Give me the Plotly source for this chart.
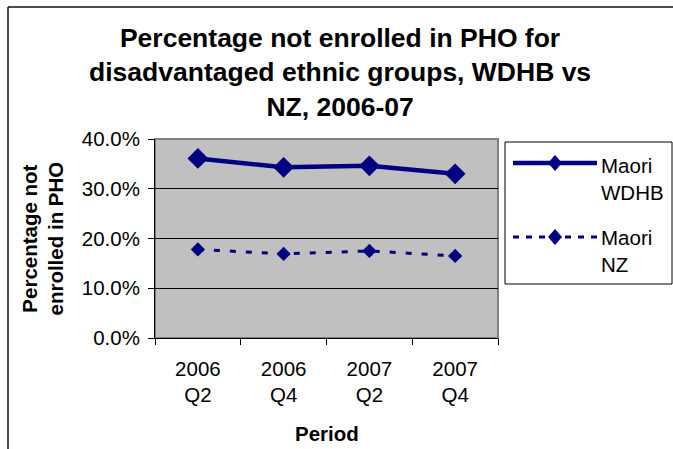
import plotly.graph_objects as go

# Survey periods and percentage of the population not enrolled in a PHO
periods = ["2006<br>Q2", "2006<br>Q4", "2007<br>Q2", "2007<br>Q4"]
maori_wdhb = [0.361, 0.343, 0.346, 0.330]
maori_nz = [0.178, 0.169, 0.175, 0.165]
series_names = ["Maori<br>WDHB", "Maori<br>NZ"]

NAVY = "#000080"
FONT = "Liberation Sans, Arial, sans-serif"
W, H = 673, 449


def fx(x):
    """Pixel column -> paper x."""
    return x / W


def fy(y):
    """Pixel row (from top) -> paper y."""
    return 1 - y / H


# plot area in pixels
PL, PR, PT, PB = 155, 498, 139, 338

fig = go.Figure()
fig.add_trace(go.Scatter(
    x=periods, y=maori_wdhb, mode="lines+markers", name=series_names[0],
    line=dict(color=NAVY, width=4.5),
    marker=dict(symbol="diamond", size=16, color=NAVY),
    showlegend=False,
))
fig.add_trace(go.Scatter(
    x=periods, y=maori_nz, mode="lines+markers", name=series_names[1],
    line=dict(color=NAVY, width=3, dash="6px,10px"),
    marker=dict(symbol="diamond", size=11, color=NAVY),
    showlegend=False,
))

shapes = [
    # chart frame (top and left edges)
    dict(type="line", xref="paper", yref="paper", x0=fx(8), y0=fy(7), x1=fx(673), y1=fy(7),
         line=dict(color="#111111", width=1.5)),
    dict(type="line", xref="paper", yref="paper", x0=fx(8), y0=fy(7), x1=fx(8), y1=fy(449),
         line=dict(color="#111111", width=1.5)),
    # plot area border
    dict(type="rect", xref="paper", yref="paper", x0=fx(PL), y0=fy(PB), x1=fx(PR), y1=fy(PT),
         line=dict(color="#808080", width=2), layer="below"),
    # legend box
    dict(type="rect", xref="paper", yref="paper", x0=fx(505), y0=fy(142), x1=fx(672), y1=fy(284),
         line=dict(color="#000000", width=1), fillcolor="white"),
]


def legend_sample(yc, width, dash, half):
    cx = 555
    shapes.append(dict(type="line", xref="paper", yref="paper",
                       x0=fx(513), y0=fy(yc), x1=fx(597), y1=fy(yc),
                       line=dict(color=NAVY, width=width, dash=dash)))
    path = "M {} {} L {} {} L {} {} L {} {} Z".format(
        fx(cx - half), fy(yc), fx(cx), fy(yc - half - 1),
        fx(cx + half), fy(yc), fx(cx), fy(yc + half + 1))
    shapes.append(dict(type="path", xref="paper", yref="paper", path=path,
                       fillcolor=NAVY, line=dict(color=NAVY, width=0)))


legend_sample(163, 4.5, "solid", 7)
legend_sample(237, 3, "6px,7px", 7)

annotations = [
    dict(text="Percentage not enrolled in PHO for<br>disadvantaged ethnic groups, WDHB vs<br>NZ, 2006-07",
         xref="paper", yref="paper", x=fx(340), y=fy(72), xanchor="center", yanchor="middle",
         showarrow=False, font=dict(family=FONT, size=26.5, color="black", weight="bold")),
    dict(text="Percentage not<br>enrolled in PHO", textangle=-90,
         xref="paper", yref="paper", x=fx(42), y=fy(238.5), xanchor="center", yanchor="middle",
         showarrow=False, font=dict(family=FONT, size=20.5, color="black", weight="bold")),
    dict(text="Period", xref="paper", yref="paper", x=fx(327), y=fy(433),
         xanchor="center", yanchor="middle", showarrow=False,
         font=dict(family=FONT, size=20.5, color="black", weight="bold")),
    dict(text=series_names[0], xref="paper", yref="paper", x=fx(599), y=fy(178.7),
         xanchor="left", yanchor="middle", align="left", showarrow=False,
         font=dict(family=FONT, size=20.5, color="black")),
    dict(text=series_names[1], xref="paper", yref="paper", x=fx(599), y=fy(250.7),
         xanchor="left", yanchor="middle", align="left", showarrow=False,
         font=dict(family=FONT, size=20.5, color="black")),
]

fig.update_layout(
    width=W, height=H,
    autosize=False,
    margin=dict(l=0, r=0, t=0, b=0, pad=0, autoexpand=False),
    showlegend=False,
    paper_bgcolor="white",
    plot_bgcolor="#C0C0C0",
    font=dict(family=FONT, size=20.5, color="black"),
    shapes=shapes,
    annotations=annotations,
    xaxis=dict(
        domain=[fx(PL), fx(PR)], type="category", range=[-0.5, 3.5],
        tickson="boundaries", ticks="outside", ticklen=6, tickcolor="black",
        showline=True, linecolor="black", linewidth=1, showgrid=False,
        tickfont=dict(family=FONT, size=20.5, color="black"),
        ticklabelstandoff=12, automargin=False,
    ),
    yaxis=dict(
        domain=[fy(PB), fy(PT)], range=[0, 0.4], dtick=0.1, tickformat=".1%",
        ticks="outside", ticklen=6, tickcolor="black",
        showline=True, linecolor="black", linewidth=1,
        showgrid=True, gridcolor="black", gridwidth=1, zeroline=False,
        tickfont=dict(family=FONT, size=20.5, color="black"),
        ticklabelstandoff=4, automargin=False,
    ),
)

fig.write_html("out.html")
